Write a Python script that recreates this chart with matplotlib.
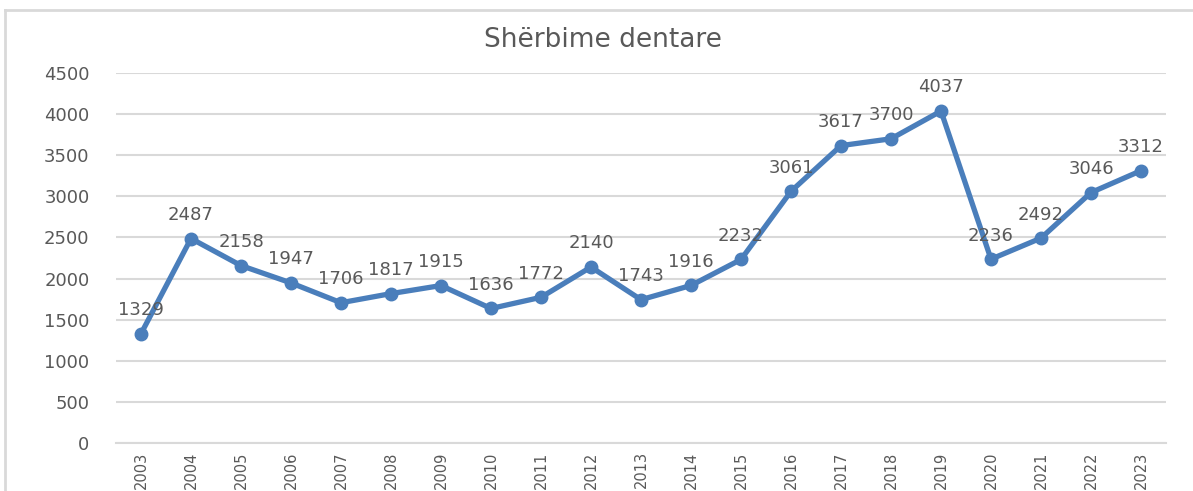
import matplotlib
matplotlib.use("Agg")
import matplotlib.pyplot as plt
from matplotlib.lines import Line2D

years = ["2003", "2004", "2005", "2006", "2007", "2008", "2009", "2010", "2011", "2012",
         "2013", "2014", "2015", "2016", "2017", "2018", "2019", "2020", "2021", "2022", "2023"]
values = [1329, 2487, 2158, 1947, 1706, 1817, 1915, 1636, 1772, 2140,
          1743, 1916, 2232, 3061, 3617, 3700, 4037, 2236, 2492, 3046, 3312]
yticks = [0, 500, 1000, 1500, 2000, 2500, 3000, 3500, 4000, 4500]
title = "Shërbime dentare"

W, H = 1193, 491
fig = plt.figure(figsize=(W / 100, H / 100), dpi=100)
fig.patch.set_facecolor("white")

# outer chart border (left and top edges visible)
fig.lines.append(Line2D([5 / W, 5 / W], [0, 1 - 10 / H], transform=fig.transFigure,
                        color="#D9D9D9", linewidth=2))
fig.lines.append(Line2D([5 / W, 1], [1 - 10 / H, 1 - 10 / H], transform=fig.transFigure,
                        color="#D9D9D9", linewidth=2))

ax = fig.add_axes([116 / W, 1 - 443 / H, (1166 - 116) / W, (443 - 73) / H])
x = list(range(len(years)))
ax.plot(x, values, color="#4A7EBB", linewidth=3.8, marker="o", markersize=9,
        solid_capstyle="round", solid_joinstyle="round", zorder=3)

for xi, v in zip(x, values):
    ax.annotate(str(v), (xi, v), xytext=(0, 10.5), textcoords="offset points",
                ha="center", va="bottom", fontsize=13, color="#595959", zorder=4)

ax.set_xlim(-0.5, len(years) - 0.5)
ax.set_ylim(0, 4500)
ax.set_yticks(yticks)
ax.set_yticklabels([str(t) for t in yticks], fontsize=13, color="#595959")
ax.set_xticks(x)
ax.set_xticklabels(years, rotation=90, fontsize=10.5, color="#595959")
ax.tick_params(axis="y", length=0, pad=19)
ax.tick_params(axis="x", length=0, pad=6)
ax.grid(axis="y", color="#D9D9D9", linewidth=1.5, zorder=0)
ax.set_axisbelow(True)
for s in ["top", "right", "left"]:
    ax.spines[s].set_visible(False)
ax.spines["bottom"].set_color("#D9D9D9")
ax.spines["bottom"].set_linewidth(1.5)

fig.text(603 / W, 1 - 40 / H, title, ha="center", va="center", fontsize=19, color="#595959")

fig.savefig("out.png", dpi=100, facecolor="white")
